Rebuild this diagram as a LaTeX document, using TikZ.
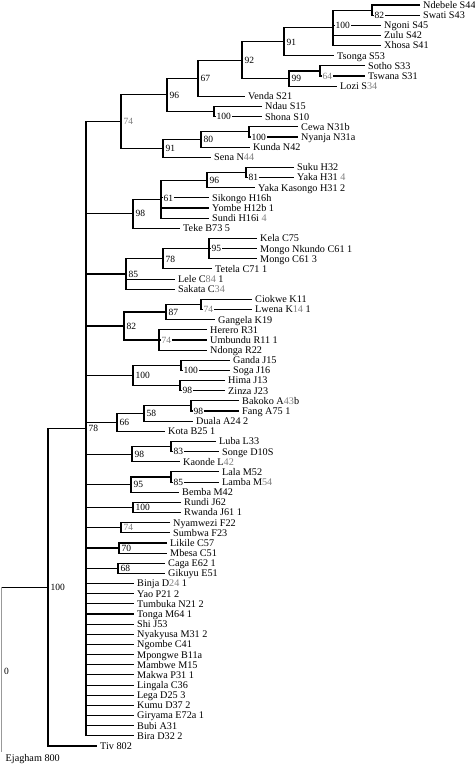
\documentclass[tikz,border=0pt]{standalone}
\usepackage{fontspec}
\setmainfont{Liberation Serif}
\definecolor{bsgray}{gray}{0.5}
\definecolor{partgray}{gray}{0.5}
\definecolor{rootgray}{gray}{0.6}
\newcommand\gq[1]{\textcolor{partgray}{#1}}
\newcommand\leaffont{\fontsize{10.2}{12}\selectfont}
\newcommand\bsfont{\fontsize{9.5}{11}\selectfont}
\begin{document}
\begin{tikzpicture}[x=1pt,y=-1pt,
  leaf/.style={anchor=west, inner xsep=3pt, inner ysep=0.5pt, text height=6.8pt, text depth=0pt, font=\leaffont},
  bs/.style={anchor=west, fill=white, inner xsep=1pt, inner ysep=0.8pt, text height=6.5pt, text depth=0pt, font=\bsfont, xshift=1.5pt},
  bsg/.style={bs, text=bsgray},
  br/.style={line width=1.1pt, line join=miter}]
\useasboundingbox (0,0) rectangle (474,781);
% leaves
\node[leaf] (l1) at (420,5.00) {Ndebele S44};
\node[leaf] (l2) at (420,15.15) {Swati S43};
\node[leaf] (l3) at (381,25.30) {Ngoni S45};
\node[leaf] (l4) at (381,35.45) {Zulu S42};
\node[leaf] (l5) at (381,45.60) {Xhosa S41};
\node[leaf] (l6) at (334,55.75) {Tsonga S53};
\node[leaf] (l7) at (365,65.90) {Sotho S33};
\node[leaf] (l8) at (365,76.05) {Tswana S31};
\node[leaf] (l9) at (337,86.20) {Lozi S\gq{34}};
\node[leaf] (l10) at (245,96.35) {Venda S21};
\node[leaf] (l11) at (262,106.50) {Ndau S15};
\node[leaf] (l12) at (262,116.65) {Shona S10};
\node[leaf] (l13) at (298,126.80) {Cewa N31b};
\node[leaf] (l14) at (298,136.95) {Nyanja N31a};
\node[leaf] (l15) at (250,147.10) {Kunda N42};
\node[leaf] (l16) at (211,157.25) {Sena N\gq{44}};
\node[leaf] (l17) at (294,167.40) {Suku H32};
\node[leaf] (l18) at (294,177.55) {Yaka H31 \gq{4}};
\node[leaf] (l19) at (255,187.70) {Yaka Kasongo H31 2};
\node[leaf] (l20) at (209,197.85) {Sikongo H16h};
\node[leaf] (l21) at (209,208.00) {Yombe H12b 1};
\node[leaf] (l22) at (209,218.15) {Sundi H16i \gq{4}};
\node[leaf] (l23) at (180,228.30) {Teke B73 5};
\node[leaf] (l24) at (257,238.45) {Kela C75};
\node[leaf] (l25) at (257,248.60) {Mongo Nkundo C61 1};
\node[leaf] (l26) at (257,258.75) {Mongo C61 3};
\node[leaf] (l27) at (212,268.90) {Tetela C71 1};
\node[leaf] (l28) at (175,279.05) {Lele C\gq{84} 1};
\node[leaf] (l29) at (175,289.20) {Sakata C\gq{34}};
\node[leaf] (l30) at (252,299.35) {Ciokwe K11};
\node[leaf] (l31) at (252,309.50) {Lwena K\gq{14} 1};
\node[leaf] (l32) at (215,319.65) {Gangela K19};
\node[leaf] (l33) at (207,329.80) {Herero R31};
\node[leaf] (l34) at (207,339.95) {Umbundu R11 1};
\node[leaf] (l35) at (207,350.10) {Ndonga R22};
\node[leaf] (l36) at (230,360.25) {Ganda J15};
\node[leaf] (l37) at (230,370.40) {Soga J16};
\node[leaf] (l38) at (225,380.55) {Hima J13};
\node[leaf] (l39) at (225,390.70) {Zinza J23};
\node[leaf] (l40) at (239,400.85) {Bakoko A\gq{43}b};
\node[leaf] (l41) at (239,411.00) {Fang A75 1};
\node[leaf] (l42) at (193,421.15) {Duala A24 2};
\node[leaf] (l43) at (165,431.30) {Kota B25 1};
\node[leaf] (l44) at (216,441.45) {Luba L33};
\node[leaf] (l45) at (219,451.60) {Songe D10S};
\node[leaf] (l46) at (180,461.75) {Kaonde L\gq{42}};
\node[leaf] (l47) at (219,471.90) {Lala M52};
\node[leaf] (l48) at (219,482.05) {Lamba M\gq{54}};
\node[leaf] (l49) at (179,492.20) {Bemba M42};
\node[leaf] (l50) at (181,502.35) {Rundi J62};
\node[leaf] (l51) at (181,512.50) {Rwanda J61 1};
\node[leaf] (l52) at (170,522.65) {Nyamwezi F22};
\node[leaf] (l53) at (170,532.80) {Sumbwa F23};
\node[leaf] (l54) at (167,542.95) {Likile C57};
\node[leaf] (l55) at (167,553.10) {Mbesa C51};
\node[leaf] (l56) at (165,563.25) {Caga E62 1};
\node[leaf] (l57) at (165,573.40) {Gikuyu E51};
\node[leaf] (l58) at (134,583.55) {Binja D\gq{24} 1};
\node[leaf] (l59) at (134,593.70) {Yao P21 2};
\node[leaf] (l60) at (134,603.85) {Tumbuka N21 2};
\node[leaf] (l61) at (134,614.00) {Tonga M64 1};
\node[leaf] (l62) at (134,624.15) {Shi J53};
\node[leaf] (l63) at (134,634.30) {Nyakyusa M31 2};
\node[leaf] (l64) at (134,644.45) {Ngombe C41};
\node[leaf] (l65) at (134,654.60) {Mpongwe B11a};
\node[leaf] (l66) at (134,664.75) {Mambwe M15};
\node[leaf] (l67) at (134,674.90) {Makwa P31 1};
\node[leaf] (l68) at (134,685.05) {Lingala C36};
\node[leaf] (l69) at (134,695.20) {Lega D25 3};
\node[leaf] (l70) at (134,705.35) {Kumu D37 2};
\node[leaf] (l71) at (134,715.50) {Giryama E72a 1};
\node[leaf] (l72) at (134,725.65) {Bubi A31};
\node[leaf] (l73) at (134,735.80) {Bira D32 2};
\node[leaf] (l74) at (97,745.95) {Tiv 802};
\node[leaf, inner xsep=2.5pt] (l75) at (3,758) {Ejagham 800};
% internal nodes
\coordinate (n82) at (372,10.08);
\coordinate (n100a) at (333,27.84);
\coordinate (n91a) at (284,41.79);
\coordinate (n64) at (320,70.98);
\coordinate (n99) at (289,78.59);
\coordinate (n92) at (242,60.19);
\coordinate (n67) at (198,78.27);
\coordinate (n100b) at (214,111.58);
\coordinate (n96a) at (167,94.92);
\coordinate (n100c) at (249,131.88);
\coordinate (n80) at (201,139.49);
\coordinate (n91b) at (163,148.37);
\coordinate (n74a) at (121,121.65);
\coordinate (n81) at (246,172.48);
\coordinate (n96b) at (207,180.09);
\coordinate (n61) at (161,199.12);
\coordinate (n98a) at (133,213.71);
\coordinate (n95a) at (209,248.60);
\coordinate (n78b) at (163,258.75);
\coordinate (n85a) at (126,273.98);
\coordinate (n74b) at (201,304.43);
\coordinate (n87) at (166,312.04);
\coordinate (n74c) at (159,339.95);
\coordinate (n82b) at (124,326.00);
\coordinate (n100d) at (181,365.33);
\coordinate (n98b) at (180,385.63);
\coordinate (n100g) at (133,375.48);
\coordinate (n98c) at (191,405.93);
\coordinate (n58) at (144,413.54);
\coordinate (n66) at (117,422.42);
\coordinate (n83) at (171,446.53);
\coordinate (n98d) at (132,454.14);
\coordinate (n85b) at (171,476.98);
\coordinate (n95b) at (131,484.59);
\coordinate (n100e) at (133,507.43);
\coordinate (n74d) at (121,527.73);
\coordinate (n70) at (119,548.03);
\coordinate (n68) at (118,568.33);
\coordinate (n78a) at (86,428.73);
\coordinate (n100f) at (48,587.34);
\coordinate (nroot) at (1.5,671.72);
\coordinate (ejend) at (1.5,752);
% branches
\draw[br] (l1.west) -- (n82|-l1) -- (n82|-l2) -- (l2.west);
\draw[br] (n82) -- (n100a|-n82) -- (n100a|-l5) -- (l5.west);
\draw[br] (n100a|-l3) -- (l3.west);
\draw[br] (n100a|-l4) -- (l4.west);
\draw[br] (n100a) -- (n91a|-n100a) -- (n91a|-l6) -- (l6.west);
\draw[br] (l7.west) -- (n64|-l7) -- (n64|-l8) -- (l8.west);
\draw[br] (n64) -- (n99|-n64) -- (n99|-l9) -- (l9.west);
\draw[br] (n91a) -- (n92|-n91a) -- (n92|-n99) -- (n99);
\draw[br] (n92) -- (n67|-n92) -- (n67|-l10) -- (l10.west);
\draw[br] (l11.west) -- (n100b|-l11) -- (n100b|-l12) -- (l12.west);
\draw[br] (n67) -- (n96a|-n67) -- (n96a|-n100b) -- (n100b);
\draw[br] (l13.west) -- (n100c|-l13) -- (n100c|-l14) -- (l14.west);
\draw[br] (n100c) -- (n80|-n100c) -- (n80|-l15) -- (l15.west);
\draw[br] (n80) -- (n91b|-n80) -- (n91b|-l16) -- (l16.west);
\draw[br] (n96a) -- (n74a|-n96a) -- (n74a|-n91b) -- (n91b);
\draw[br] (l17.west) -- (n81|-l17) -- (n81|-l18) -- (l18.west);
\draw[br] (n81) -- (n96b|-n81) -- (n96b|-l19) -- (l19.west);
\draw[br] (n96b) -- (n61|-n96b) -- (n61|-l22) -- (l22.west);
\draw[br] (n61|-l20) -- (l20.west);
\draw[br] (n61|-l21) -- (l21.west);
\draw[br] (n61) -- (n98a|-n61) -- (n98a|-l23) -- (l23.west);
\draw[br] (l24.west) -- (n95a|-l24) -- (n95a|-l26) -- (l26.west);
\draw[br] (n95a|-l25) -- (l25.west);
\draw[br] (n95a) -- (n78b|-n95a) -- (n78b|-l27) -- (l27.west);
\draw[br] (n78b) -- (n85a|-n78b) -- (n85a|-l29) -- (l29.west);
\draw[br] (n85a|-l28) -- (l28.west);
\draw[br] (l30.west) -- (n74b|-l30) -- (n74b|-l31) -- (l31.west);
\draw[br] (n74b) -- (n87|-n74b) -- (n87|-l32) -- (l32.west);
\draw[br] (l33.west) -- (n74c|-l33) -- (n74c|-l35) -- (l35.west);
\draw[br] (n74c|-l34) -- (l34.west);
\draw[br] (n87) -- (n82b|-n87) -- (n82b|-n74c) -- (n74c);
\draw[br] (l36.west) -- (n100d|-l36) -- (n100d|-l37) -- (l37.west);
\draw[br] (l38.west) -- (n98b|-l38) -- (n98b|-l39) -- (l39.west);
\draw[br] (n100d) -- (n100g|-n100d) -- (n100g|-n98b) -- (n98b);
\draw[br] (l40.west) -- (n98c|-l40) -- (n98c|-l41) -- (l41.west);
\draw[br] (n98c) -- (n58|-n98c) -- (n58|-l42) -- (l42.west);
\draw[br] (n58) -- (n66|-n58) -- (n66|-l43) -- (l43.west);
\draw[br] (l44.west) -- (n83|-l44) -- (n83|-l45) -- (l45.west);
\draw[br] (n83) -- (n98d|-n83) -- (n98d|-l46) -- (l46.west);
\draw[br] (l47.west) -- (n85b|-l47) -- (n85b|-l48) -- (l48.west);
\draw[br] (n85b) -- (n95b|-n85b) -- (n95b|-l49) -- (l49.west);
\draw[br] (l50.west) -- (n100e|-l50) -- (n100e|-l51) -- (l51.west);
\draw[br] (l52.west) -- (n74d|-l52) -- (n74d|-l53) -- (l53.west);
\draw[br] (l54.west) -- (n70|-l54) -- (n70|-l55) -- (l55.west);
\draw[br] (l56.west) -- (n68|-l56) -- (n68|-l57) -- (l57.west);
\draw[br] (n74a) -- (n78a|-n74a) -- (n78a|-l73) -- (l73.west);
\foreach \c in {n98a,n85a,n82b,n100g,n66,n98d,n95b,n100e,n74d,n70,n68}
  \draw[br] (n78a|-\c) -- (\c);
\foreach \i in {58,...,72}
  \draw[br] (n78a|-l\i) -- (l\i.west);
\draw[br] (n78a) -- (n100f|-n78a) -- (n100f|-l74) -- (l74.west);
\draw[br] (nroot|-n100f) -- (n100f);
\draw[br, rootgray] (nroot|-n100f) -- (ejend);
% bootstrap labels
\node[bs] (b1) at (n82|-l2) {82};
\node[bs] (b2) at (n100a|-l3) {100};
\node[bs] (b3) at (n91a) {91};
\node[bsg] (b4) at (n64|-l8) {64};
\node[bs] (b5) at (n99) {99};
\node[bs] (b6) at (n92) {92};
\node[bs] (b7) at (n67) {67};
\node[bs] (b8) at (n100b|-l12) {100};
\node[bs] (b9) at (n96a) {96};
\node[bs] (b10) at (n100c|-l14) {100};
\node[bs] (b11) at (n80) {80};
\node[bs] (b12) at (n91b) {91};
\node[bsg] (b13) at (n74a) {74};
\node[bs] (b14) at (n81|-l18) {81};
\node[bs] (b15) at (n96b) {96};
\node[bs] (b16) at (n61|-l20) {61};
\node[bs] (b17) at (n98a) {98};
\node[bs] (b18) at (n95a|-l25) {95};
\node[bs] (b19) at (n78b) {78};
\node[bs] (b20) at (n85a) {85};
\node[bsg] (b21) at (n74b|-l31) {74};
\node[bs] (b22) at (n87) {87};
\node[bsg] (b23) at (n74c|-l34) {74};
\node[bs] (b24) at (n82b) {82};
\node[bs] (b25) at (n100d|-l37) {100};
\node[bs] (b26) at (n98b|-l39) {98};
\node[bs] (b27) at (n100g) {100};
\node[bs] (b28) at (n98c|-l41) {98};
\node[bs] (b29) at (n58) {58};
\node[bs] (b30) at (n66) {66};
\node[bs] (b31) at (n83|-l45) {83};
\node[bs] (b32) at (n98d) {98};
\node[bs] (b33) at (n85b|-l48) {85};
\node[bs] (b34) at (n95b) {95};
\node[bs] (b35) at (n100e) {100};
\node[bsg] (b36) at (n74d) {74};
\node[bs] (b37) at (n70) {70};
\node[bs] (b38) at (n68) {68};
\node[bs] (b39) at (n78a) {78};
\node[bs] (b40) at (n100f) {100};
\node[bs] (b41) at (nroot) {0};
\end{tikzpicture}
\end{document}
